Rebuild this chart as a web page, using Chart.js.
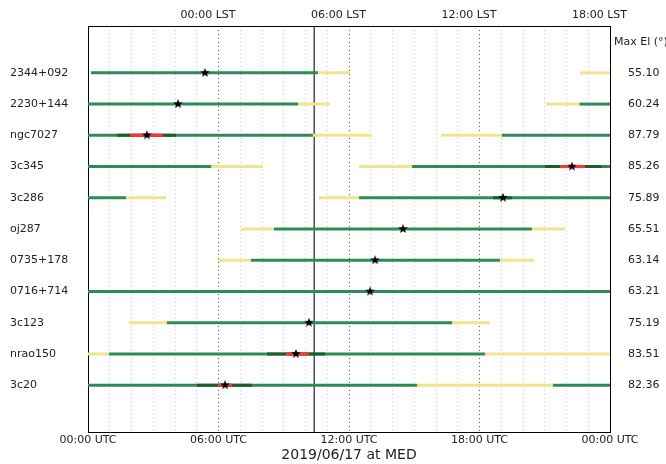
<!DOCTYPE html>
<html>
<head>
<meta charset="utf-8">
<script src="https://cdn.jsdelivr.net/npm/chart.js@4.4.1/dist/chart.umd.min.js"></script>
<style>
  html, body { margin: 0; padding: 0; background: #fff; }
  #wrap { width: 666px; height: 464px; position: relative; }
</style>
</head>
<body>
<div id="wrap"><canvas id="c" width="666" height="464"></canvas></div>
<script>
// ---- data (hours UTC on 2019/06/17) ----
const sources = ['2344+092','2230+144','ngc7027','3c345','3c286','oj287','0735+178','0716+714','3c123','nrao150','3c20'];
const maxEl = ['55.10','60.24','87.79','85.26','75.89','65.51','63.14','63.21','75.19','83.51','82.36'];
const transitUtc = [5.38, 4.14, 2.71, 22.25, 19.08, 14.48, 13.20, 12.97, 10.16, 9.56, 6.30];
const utcTickLabels = ['00:00 UTC','06:00 UTC','12:00 UTC','18:00 UTC','00:00 UTC'];
const lstTickUtc = [5.52, 11.52, 17.52, 23.52];
const lstTickLabels = ['00:00 LST','06:00 LST','12:00 LST','18:00 LST'];
const nowUtc = 10.40;
// [row, start, end]
const lowSegs = [
  [0, 10.57, 12.05], [0, 22.62, 24.0],
  [1, 9.66, 11.13], [1, 21.06, 22.60],
  [2, 10.34, 13.06], [2, 16.23, 19.03],
  [3, 5.66, 8.05], [3, 12.46, 14.90],
  [4, 1.75, 3.59], [4, 10.62, 12.46],
  [5, 7.03, 8.55], [5, 20.41, 21.93],
  [6, 5.98, 7.49], [6, 18.94, 20.51],
  [8, 1.89, 3.63], [8, 16.74, 18.48],
  [9, 0.0, 0.97], [9, 18.25, 24.0],
  [10, 15.13, 21.38]
];
const upSegs = [
  [0, 0.14, 10.57],
  [1, 0.0, 9.66], [1, 22.60, 24.0],
  [2, 0.0, 10.34], [2, 19.03, 24.0],
  [3, 0.0, 5.66], [3, 14.90, 24.0],
  [4, 0.0, 1.75], [4, 12.46, 24.0],
  [5, 8.55, 20.41],
  [6, 7.49, 18.94],
  [7, 0.0, 24.0],
  [8, 3.63, 16.74],
  [9, 0.97, 18.25],
  [10, 0.0, 15.13], [10, 21.38, 24.0]
];
const highSegs = [
  [2, 1.33, 4.05],
  [3, 21.01, 23.60],
  [4, 18.62, 19.49],
  [9, 8.23, 10.90],
  [10, 5.01, 7.54]
];
const peakSegs = [
  [2, 1.93, 3.45],
  [3, 21.70, 22.85],
  [9, 9.10, 10.16],
  [10, 5.98, 6.62]
];

// ---- styling ----
const FONT = 'DejaVu Sans';
const TXT = '#222';
const COL = { low: '#eee58c', up: '#2e8b57', high: '#1d5c30', peak: '#ff3333' };

function starCanvas(size) {
  const c = document.createElement('canvas');
  c.width = size; c.height = size;
  const g = c.getContext('2d');
  const cx = size / 2, cy = size / 2, R = size / 2, r = R * 0.42;
  g.beginPath();
  for (let i = 0; i < 10; i++) {
    const rad = i % 2 === 0 ? R : r;
    const a = -Math.PI / 2 + i * Math.PI / 5;
    const px = cx + rad * Math.cos(a), py = cy + rad * Math.sin(a);
    if (i === 0) g.moveTo(px, py); else g.lineTo(px, py);
  }
  g.closePath();
  g.fillStyle = '#000';
  g.fill();
  return c;
}
const star = starCanvas(10);

const datasets = [];
datasets.push({
  type: 'scatter', order: 0,
  data: transitUtc.map((h, i) => ({ x: h, y: i })),
  pointStyle: star, pointRadius: 5, pointHoverRadius: 5
});
function addSegs(segs, color, order, width) {
  segs.forEach(s => {
    datasets.push({
      type: 'line', order: order,
      data: [{ x: s[1], y: s[0] }, { x: s[2], y: s[0] }],
      borderColor: color, borderWidth: width, pointRadius: 0, fill: false,
      borderCapStyle: 'butt'
    });
  });
}
addSegs(peakSegs, COL.peak, 1, 3);
addSegs(highSegs, COL.high, 2, 3);
addSegs(upSegs, COL.up, 3, 3);
addSegs(lowSegs, COL.low, 4, 3);
datasets.push({
  type: 'line', order: 5,
  data: [{ x: nowUtc, y: -1.5 }, { x: nowUtc, y: 11.5 }],
  borderColor: '#333', borderWidth: 1.3, pointRadius: 0, fill: false
});

const maxElTitle = {
  id: 'maxElTitle',
  afterDraw(chart) {
    const ctx = chart.ctx;
    ctx.save();
    ctx.font = '11px "' + FONT + '"';
    ctx.fillStyle = TXT;
    ctx.textAlign = 'left';
    ctx.textBaseline = 'middle';
    ctx.fillText('Max El (°)', chart.chartArea.right + 4, 42);
    ctx.restore();
  }
};

new Chart(document.getElementById('c'), {
  data: { datasets },
  plugins: [maxElTitle],
  options: {
    responsive: false,
    animation: false,
    layout: { padding: { left: 10, right: 0, top: 0, bottom: 0 } },
    plugins: { legend: { display: false }, tooltip: { enabled: false } },
    scales: {
      x: {
        type: 'linear', position: 'bottom', min: 0, max: 24,
        afterBuildTicks: s => { s.ticks = Array.from({ length: 25 }, (_, i) => ({ value: i })); },
        afterFit: s => { s.height = 32; },
        ticks: {
          autoSkip: false, maxRotation: 0, padding: 2,
          color: TXT, font: { family: FONT, size: 11 },
          callback: v => (v % 6 === 0 ? utcTickLabels[v / 6] : '')
        },
        grid: {
          drawTicks: false,
          color: c => (c.tick && c.tick.value % 6 === 0 ? '#555' : '#c4c4c4'),
          lineWidth: 1
        },
        border: { display: true, color: '#000', width: 1, dash: [1, 3] },
        title: {
          display: true, text: '2019/06/17 at MED', color: TXT,
          font: { family: FONT, size: 14 }, padding: { top: 0, bottom: 0 }
        }
      },
      x2: {
        type: 'linear', position: 'top', min: 0, max: 24,
        afterBuildTicks: s => { s.ticks = lstTickUtc.map(v => ({ value: v })); },
        afterFit: s => { s.height = 26; },
        ticks: {
          autoSkip: false, maxRotation: 0, padding: 4,
          color: TXT, font: { family: FONT, size: 11 },
          callback: (v, i) => lstTickLabels[i]
        },
        grid: { drawOnChartArea: false, drawTicks: false },
        border: { display: true, color: '#000', width: 1 }
      },
      y: {
        type: 'linear', position: 'left', min: -1.5, max: 11.5, reverse: true,
        afterBuildTicks: s => { s.ticks = sources.map((_, i) => ({ value: i })); },
        afterFit: s => { s.width = 78; },
        ticks: {
          autoSkip: false, crossAlign: 'far', padding: 4,
          color: TXT, font: { family: FONT, size: 11 },
          callback: (v, i) => sources[i]
        },
        grid: { display: false, drawTicks: false },
        border: { display: true, color: '#000', width: 1 }
      },
      y2: {
        type: 'linear', position: 'right', min: -1.5, max: 11.5, reverse: true,
        afterBuildTicks: s => { s.ticks = maxEl.map((_, i) => ({ value: i })); },
        afterFit: s => { s.width = 56; },
        ticks: {
          autoSkip: false, padding: 18,
          color: TXT, font: { family: FONT, size: 11 },
          callback: (v, i) => maxEl[i]
        },
        grid: { display: false, drawTicks: false },
        border: { display: true, color: '#000', width: 1 }
      }
    }
  }
});
</script>
</body>
</html>
